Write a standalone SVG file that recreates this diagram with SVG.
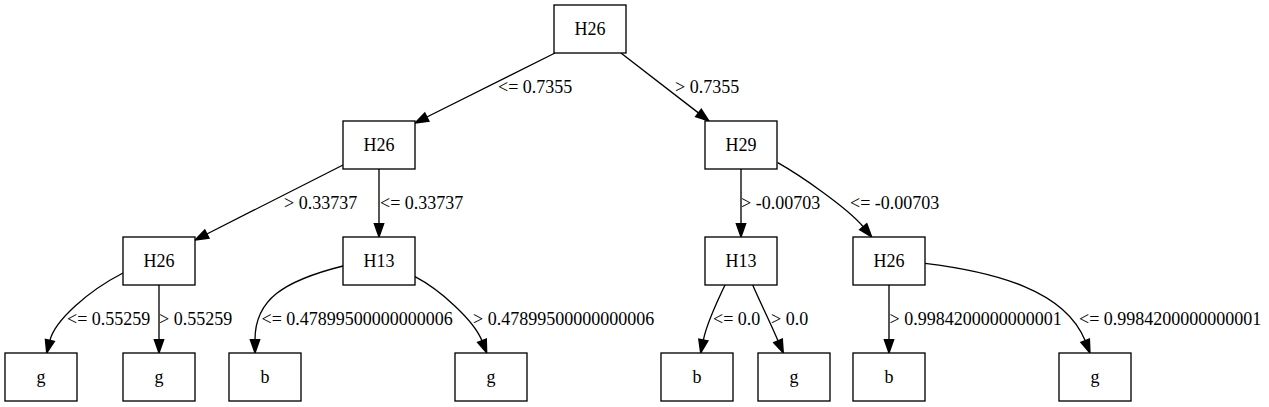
<svg xmlns="http://www.w3.org/2000/svg" width="1269" height="407" viewBox="0 0 1269 407">
<style>
.box{fill:#fff;stroke:#000;stroke-width:1.33}
.nt{font-family:"Liberation Serif","Times New Roman",serif;font-size:18px;text-anchor:middle;fill:#000}
.el{font-family:"Liberation Serif","Times New Roman",serif;font-size:18px;fill:#000}
.e{fill:none;stroke:#000;stroke-width:1.33}
.ah{fill:#000;stroke:#000;stroke-width:1.33}
</style>
<rect width="1269" height="407" fill="#fff"/>
<g id="connectors">
<path class="e" d="M555,53 L426.9,117"/><polygon class="ah" points="429,121.2 424.8,112.9 415,123"/>
<path class="e" d="M620.9,53 L698.4,112.9"/><polygon class="ah" points="695.6,116.6 701.3,109.2 709,121"/>
<path class="e" d="M343,165 L206.9,234"/><polygon class="ah" points="209,238.1 204.8,229.8 195,240"/>
<path class="e" d="M379,169 V223.7"/><polygon class="ah" points="383.7,223.7 374.3,223.7 379,237"/>
<path class="e" d="M741,169 V223.7"/><polygon class="ah" points="745.7,223.7 736.3,223.7 741,237"/>
<path class="e" d="M777.7,162.7 C799.7,175.1 847.2,207.7 863.2,226.7"/><polygon class="ah" points="859.6,229.7 866.8,223.7 871.7,237"/>
<path class="e" d="M123,273 C88,291 54.9,320.4 49.9,340.4"/><polygon class="ah" points="54.4,341.5 45.4,339.3 46.7,353"/>
<path class="e" d="M159,285 V339.7"/><polygon class="ah" points="163.7,339.7 154.3,339.7 159,353"/>
<path class="e" d="M343,266 C283,281 255,300 255,339.7"/><polygon class="ah" points="259.7,339.7 250.3,339.7 255,353"/>
<path class="e" d="M415,276.7 C440,289.7 473.9,320.3 481.9,340.6"/><polygon class="ah" points="477.5,342.3 486.3,338.9 486.7,353"/>
<path class="e" d="M725,285 C719,297.5 706.4,324.6 703.4,339.9"/><polygon class="ah" points="708,340.8 698.8,339 700.7,353"/>
<path class="e" d="M752.7,285 C760,302 770,322 778,340.8"/><polygon class="ah" points="773.7,342.7 782.3,338.9 783.3,353"/>
<path class="e" d="M889,285 V339.7"/><polygon class="ah" points="893.7,339.7 884.3,339.7 889,353"/>
<path class="e" d="M925,263.3 C995,271.8 1065.1,290.3 1085.1,340.6"/><polygon class="ah" points="1080.8,342.3 1089.4,338.9 1090,353"/>
<text class="el" x="498" y="92.5">&lt;= 0.7355</text>
<text class="el" x="675" y="92.5">&gt; 0.7355</text>
<text class="el" x="284" y="208.5">&gt; 0.33737</text>
<text class="el" x="380" y="208.5">&lt;= 0.33737</text>
<text class="el" x="741" y="208.5">&gt; -0.00703</text>
<text class="el" x="850" y="208.5">&lt;= -0.00703</text>
<text class="el" x="67" y="324.5">&lt;= 0.55259</text>
<text class="el" x="159" y="324.5">&gt; 0.55259</text>
<text class="el" x="261.5" y="324.5">&lt;= 0.47899500000000006</text>
<text class="el" x="473" y="324.5">&gt; 0.47899500000000006</text>
<text class="el" x="713" y="324.5">&lt;= 0.0</text>
<text class="el" x="771" y="324.5">&gt; 0.0</text>
<text class="el" x="889.5" y="324.5">&gt; 0.9984200000000001</text>
<text class="el" x="1079" y="324.5">&lt;= 0.9984200000000001</text>
</g>
<g id="n0"><rect class="box" x="554" y="5" width="72" height="48"/><text class="nt" x="590" y="34.7">H26</text></g>
<g id="n1"><rect class="box" x="343" y="121" width="72" height="48"/><text class="nt" x="379" y="150.7">H26</text></g>
<g id="n2"><rect class="box" x="705" y="121" width="72" height="48"/><text class="nt" x="741" y="150.7">H29</text></g>
<g id="n3"><rect class="box" x="123" y="237" width="72" height="48"/><text class="nt" x="159" y="266.7">H26</text></g>
<g id="n4"><rect class="box" x="343" y="237" width="72" height="48"/><text class="nt" x="379" y="266.7">H13</text></g>
<g id="n5"><rect class="box" x="705" y="237" width="72" height="48"/><text class="nt" x="741" y="266.7">H13</text></g>
<g id="n6"><rect class="box" x="853" y="237" width="72" height="48"/><text class="nt" x="889" y="266.7">H26</text></g>
<g id="n7"><rect class="box" x="5" y="353" width="72" height="48"/><text class="nt" x="41" y="382.7">g</text></g>
<g id="n8"><rect class="box" x="123" y="353" width="72" height="48"/><text class="nt" x="159" y="382.7">g</text></g>
<g id="n9"><rect class="box" x="229" y="353" width="72" height="48"/><text class="nt" x="265" y="382.7">b</text></g>
<g id="n10"><rect class="box" x="455" y="353" width="72" height="48"/><text class="nt" x="491" y="382.7">g</text></g>
<g id="n11"><rect class="box" x="661" y="353" width="72" height="48"/><text class="nt" x="697" y="382.7">b</text></g>
<g id="n12"><rect class="box" x="758" y="353" width="72" height="48"/><text class="nt" x="794" y="382.7">g</text></g>
<g id="n13"><rect class="box" x="853" y="353" width="72" height="48"/><text class="nt" x="889" y="382.7">b</text></g>
<g id="n14"><rect class="box" x="1059" y="353" width="72" height="48"/><text class="nt" x="1095" y="382.7">g</text></g>
</svg>
